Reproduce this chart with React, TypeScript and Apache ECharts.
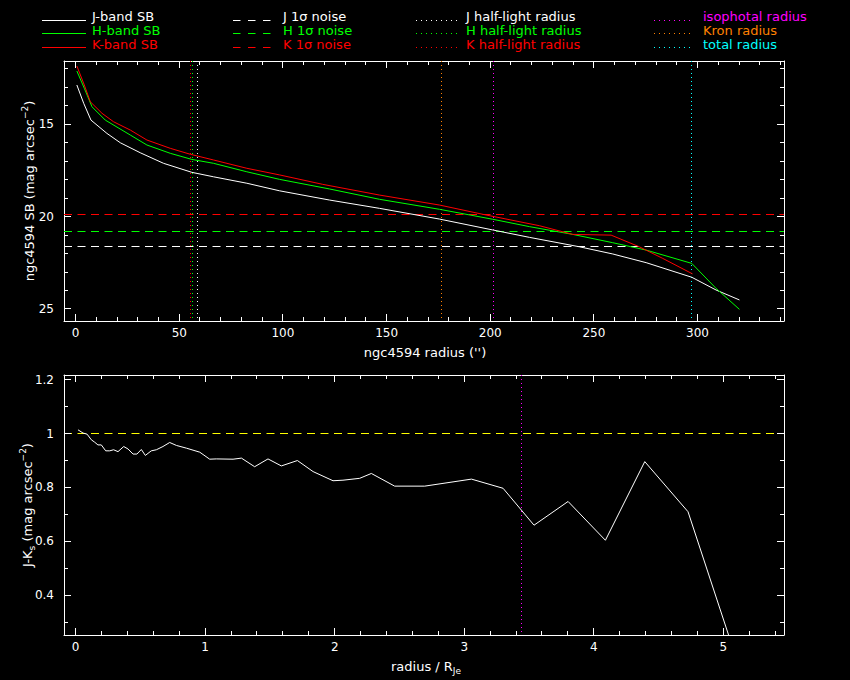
import React, { useEffect, useRef } from "react";
import * as echarts from "echarts";

// ---------- data ----------
const J_RADIUS = [0.6, 3.9, 7.4, 15.1, 21.6, 31.2, 42.4, 56.1, 66.5, 82.6, 98.4, 122.5, 146.6, 175.5, 201.2, 218.9, 243, 259.1, 275.2, 297.2, 308.9, 320.2];
const J_SB = [12.87, 13.86, 14.77, 15.49, 16.0, 16.54, 17.11, 17.6, 17.84, 18.19, 18.6, 19.1, 19.55, 20.13, 20.72, 21.12, 21.63, 22.02, 22.49, 23.28, 23.97, 24.51];

const H_RADIUS = [0.6, 4.2, 7.9, 14.3, 26.4, 34.4, 45.7, 56.1, 66.5, 82.6, 98.4, 122.5, 146.6, 175.5, 201.2, 218.9, 239.8, 259.1, 275.2, 297.2, 308.9, 320.2];
const H_SB = [12.11, 13.05, 14.05, 14.77, 15.58, 16.12, 16.57, 16.9, 17.11, 17.57, 17.98, 18.5, 19.06, 19.6, 20.14, 20.54, 20.96, 21.41, 21.81, 22.53, 23.88, 25.02];

const K_RADIUS = [0.6, 4.2, 7.1, 12.7, 18.3, 26.4, 34.4, 45.7, 55.3, 66.5, 82.6, 98.4, 119.2, 146.6, 175.5, 198, 223.7, 239.8, 258.3, 271.9, 283.2, 297.6];
const K_SB = [11.84, 12.87, 13.78, 14.4, 14.86, 15.31, 15.85, 16.3, 16.62, 16.93, 17.38, 17.74, 18.25, 18.83, 19.37, 19.91, 20.49, 20.96, 21.0, 21.63, 22.26, 23.1];

const NOISE_LEVELS = [21.6, 20.8, 19.9]; // J, H, K
const HALF_LIGHT_RADII = [58.7, 56.6, 55.3]; // J, H, K
const OTHER_RADII = [201.7, 176.6, 297.2]; // isophotal, Kron, total

const JK_RADIUS = [0.018, 0.057, 0.088, 0.121, 0.147, 0.172, 0.198, 0.232, 0.263, 0.293, 0.327, 0.371, 0.404, 0.443, 0.473, 0.507, 0.538, 0.584, 0.623, 0.674, 0.726, 0.778, 0.855, 0.958, 1.035, 1.086, 1.215, 1.28, 1.382, 1.485, 1.588, 1.712, 1.833, 1.987, 2.064, 2.193, 2.283, 2.463, 2.695, 3.056, 3.3, 3.539, 3.802, 4.09, 4.394, 4.728, 5.07];
const JK_COLOR = [1.014, 1.002, 0.998, 0.977, 0.968, 0.958, 0.958, 0.936, 0.936, 0.94, 0.933, 0.952, 0.943, 0.924, 0.924, 0.941, 0.919, 0.936, 0.94, 0.952, 0.967, 0.956, 0.946, 0.931, 0.905, 0.906, 0.905, 0.909, 0.877, 0.906, 0.88, 0.9, 0.859, 0.825, 0.827, 0.834, 0.852, 0.805, 0.805, 0.831, 0.797, 0.66, 0.748, 0.604, 0.896, 0.71, 0.21];
const JK_REFERENCE = 1;
const JK_ISOPHOTAL = 3.44;

// ---------- axis ranges & ticks ----------
const TOP_X_RANGE = [-5.6, 341.7];
const TOP_Y_RANGE = [11.57, 25.65];
const BOT_X_RANGE = [-0.09, 5.469];
const BOT_Y_RANGE = [0.2524, 1.2175];
const TOP_X_LABELS = [0, 50, 100, 150, 200, 250, 300];
const TOP_X_MINOR = [10, 20, 30, 40, 60, 70, 80, 90, 110, 120, 130, 140, 160, 170, 180, 190, 210, 220, 230, 240, 260, 270, 280, 290, 310, 320, 330, 340];
const TOP_Y_LABELS = [15, 20, 25];
const TOP_Y_MINOR = [12, 13, 14, 16, 17, 18, 19, 21, 22, 23, 24];
const BOT_X_LABELS = [0, 1, 2, 3, 4, 5];
const BOT_X_MINOR = [0.2, 0.4, 0.6, 0.8, 1.2, 1.4, 1.6, 1.8, 2.2, 2.4, 2.6, 2.8, 3.2, 3.4, 3.6, 3.8, 4.2, 4.4, 4.6, 4.8, 5.2, 5.4];
const BOT_Y_LABELS = [0.4, 0.6, 0.8, 1, 1.2];
const BOT_Y_MINOR = [0.3, 0.5, 0.7, 0.9, 1.1];

// ---------- legend / titles ----------
const SB_NAMES = ["J-band SB", "H-band SB", "K-band SB"];
const NOISE_NAMES = ["J 1σ noise", "H 1σ noise", "K 1σ noise"];
const HALF_NAMES = ["J half-light radius", "H half-light radius", "K half-light radius"];
const RADIUS_NAMES = ["isophotal radius", "Kron radius", "total radius"];
const TOP_X_TITLE = "ngc4594 radius ('')";
const TOP_Y_TITLE = "ngc4594 SB (mag arcsec{sup|−2})";
const BOT_X_TITLE = "radius / R{sub|Je}";
const BOT_Y_TITLE = "J-K{sub|s} (mag arcsec{sup|−2})";

const WHITE = "#ffffff";
const GREEN = "#00ff00";
const RED = "#ff0000";
const MAGENTA = "#ff00ff";
const ORANGE = "#ff8000";
const CYAN = "#00ffff";
const YELLOW = "#ffff00";
const BAND_COLORS = [WHITE, GREEN, RED];
const RADIUS_COLORS = [MAGENTA, ORANGE, CYAN];

const FONT = "DejaVu Sans";
const DASH = [8, 5.5];
const DOT = [1, 3];
const MAJOR_LEN = 7;
const MINOR_LEN = 4;

const zip = (xs: number[], ys: number[]) => xs.map((x, i) => [x, ys[i]]);
const crisp = (v: number) => Math.floor(v) + 0.5;

function axisPair(dim: "x" | "y", gridIndex: number, range: number[], labels: number[], inverse: boolean, margin: number) {
  const pos = dim === "x" ? ["bottom", "top"] : ["left", "right"];
  const base: any = {
    type: "value",
    gridIndex,
    min: range[0],
    max: range[1],
    inverse,
    splitLine: { show: false },
    axisTick: { show: false },
    axisLine: { show: true, onZero: false, lineStyle: { color: WHITE, width: 1 } },
  };
  return [
    {
      ...base,
      position: pos[0],
      axisLabel: { show: true, customValues: labels, color: WHITE, fontFamily: FONT, fontSize: 12, margin },
    },
    { ...base, position: pos[1], axisLabel: { show: false } },
  ];
}

function refLineSeries(name: string, dim: "x" | "y", axisIndex: number, value: number, color: string, dash: number[]) {
  return {
    type: "custom",
    name,
    coordinateSystem: "cartesian2d",
    xAxisIndex: axisIndex,
    yAxisIndex: axisIndex,
    silent: true,
    clip: false,
    z: 3,
    data: [[value, value]],
    renderItem: (params: any, api: any) => {
      const cs = params.coordSys;
      const p = api.coord([api.value(0), api.value(1)]);
      const style = { stroke: color, lineWidth: 1, lineDash: dash, fill: null };
      if (dim === "x") {
        const x = crisp(p[0]);
        return { type: "line", shape: { x1: x, y1: cs.y, x2: x, y2: cs.y + cs.height }, style };
      }
      const y = crisp(p[1]);
      return { type: "line", shape: { x1: cs.x, y1: y, x2: cs.x + cs.width, y2: y }, style };
    },
  };
}

const rich = {
  sup: { fontSize: 9, fontFamily: FONT, fill: WHITE, color: WHITE, verticalAlign: "top", lineHeight: 10 },
  sub: { fontSize: 9, fontFamily: FONT, fill: WHITE, color: WHITE, verticalAlign: "bottom", lineHeight: 10 },
};

function buildGraphics() {
  const cols = [
    { x1: 42, x2: 86, tx: 92, dash: null as any, names: SB_NAMES, colors: BAND_COLORS },
    { x1: 233, x2: 277, tx: 283, dash: [7.5, 7.5], names: NOISE_NAMES, colors: BAND_COLORS },
    { x1: 416, x2: 457, tx: 466, dash: [1, 4], names: HALF_NAMES, colors: BAND_COLORS },
    { x1: 654, x2: 694, tx: 703, dash: [1, 4], names: RADIUS_NAMES, colors: RADIUS_COLORS },
  ];
  const rows = [16.7, 30.5, 44.2];
  const els: any[] = [];
  cols.forEach((c) => {
    c.names.forEach((n, i) => {
      const ly = crisp(rows[i] + 3.3);
      els.push({
        type: "line",
        silent: true,
        shape: { x1: c.x1, y1: ly, x2: c.x2, y2: ly },
        style: { stroke: c.colors[i], lineWidth: 1, lineDash: c.dash },
      });
      els.push({
        type: "text",
        silent: true,
        x: c.tx,
        y: rows[i],
        style: { text: n, fill: c.colors[i], fontSize: 13, fontFamily: FONT, verticalAlign: "middle", align: "left" },
      });
    });
  });
  const title = (text: string, x: number, y: number, rot: number) => ({
    type: "text",
    silent: true,
    x,
    y,
    rotation: rot,
    style: {
      text,
      fill: WHITE,
      fontSize: 13,
      fontFamily: FONT,
      align: "center",
      verticalAlign: "middle",
      lineHeight: 18,
      rich,
    },
  });
  els.push(title(TOP_X_TITLE, 425, 352, 0));
  els.push(title(TOP_Y_TITLE, 29, 191, Math.PI / 2));
  els.push(title(BOT_X_TITLE, 426, 666, 0));
  els.push(title(BOT_Y_TITLE, 27, 505, Math.PI / 2));
  return els;
}

// inward tick marks on all four sides, positioned through the axes' own scales
function buildTicks(chart: any, xIdx: number, yIdx: number, xr: number[], yr: number[], xMaj: number[], xMin: number[], yMaj: number[], yMin: number[]) {
  const px = (v: number) => chart.convertToPixel({ xAxisIndex: xIdx }, v);
  const py = (v: number) => chart.convertToPixel({ yAxisIndex: yIdx }, v);
  const left = Math.min(px(xr[0]), px(xr[1]));
  const right = Math.max(px(xr[0]), px(xr[1]));
  const top = Math.min(py(yr[0]), py(yr[1]));
  const bottom = Math.max(py(yr[0]), py(yr[1]));
  const els: any[] = [];
  const seg = (x1: number, y1: number, x2: number, y2: number) =>
    els.push({ type: "line", silent: true, z: 50, shape: { x1, y1, x2, y2 }, style: { stroke: WHITE, lineWidth: 1 } });
  const xt = (vals: number[], len: number) =>
    vals.forEach((v) => {
      const x = crisp(px(v));
      seg(x, bottom, x, bottom - len);
      seg(x, top, x, top + len);
    });
  const yt = (vals: number[], len: number) =>
    vals.forEach((v) => {
      const y = crisp(py(v));
      seg(left, y, left + len, y);
      seg(right, y, right - len, y);
    });
  xt(xMaj, MAJOR_LEN);
  xt(xMin, MINOR_LEN);
  yt(yMaj, MAJOR_LEN);
  yt(yMin, MINOR_LEN);
  return els;
}

export default function App() {
  const ref = useRef<HTMLDivElement>(null);
  useEffect(() => {
    if (!ref.current) return;
    const chart = echarts.init(ref.current, undefined, { renderer: "svg" });
    const lineBase = {
      type: "line",
      symbol: "none",
      silent: true,
      clip: true,
      z: 4,
      emphasis: { disabled: true },
    };
    const topX = axisPair("x", 0, TOP_X_RANGE, TOP_X_LABELS, false, 6);
    const topY = axisPair("y", 0, TOP_Y_RANGE, TOP_Y_LABELS, true, 10);
    const botX = axisPair("x", 1, BOT_X_RANGE, BOT_X_LABELS, false, 6);
    const botY = axisPair("y", 1, BOT_Y_RANGE, BOT_Y_LABELS, false, 10);

    const baseGraphics = buildGraphics();
    chart.setOption({
      animation: false,
      backgroundColor: "#000000",
      textStyle: { fontFamily: FONT },
      grid: [
        { left: 64, top: 61, width: 720, height: 260, outerBoundsMode: "none", containLabel: false },
        { left: 64, top: 375, width: 720, height: 260, outerBoundsMode: "none", containLabel: false },
      ],
      xAxis: [...topX, ...botX],
      yAxis: [...topY, ...botY],
      graphic: baseGraphics,
      series: [
        ...NOISE_NAMES.map((n, i) => refLineSeries(n, "y", 0, NOISE_LEVELS[i], BAND_COLORS[i], DASH)),
        ...HALF_NAMES.map((n, i) => refLineSeries(n, "x", 0, HALF_LIGHT_RADII[i], BAND_COLORS[i], DOT)),
        ...RADIUS_NAMES.map((n, i) => refLineSeries(n, "x", 0, OTHER_RADII[i], RADIUS_COLORS[i], DOT)),
        refLineSeries("J-K = 1", "y", 2, JK_REFERENCE, YELLOW, DASH),
        refLineSeries("isophotal radius / R_Je", "x", 2, JK_ISOPHOTAL, MAGENTA, DOT),
        {
          ...lineBase,
          name: SB_NAMES[0],
          xAxisIndex: 0,
          yAxisIndex: 0,
          data: zip(J_RADIUS, J_SB),
          lineStyle: { color: WHITE, width: 1 },
          itemStyle: { color: WHITE },
        },
        {
          ...lineBase,
          name: SB_NAMES[1],
          xAxisIndex: 0,
          yAxisIndex: 0,
          data: zip(H_RADIUS, H_SB),
          lineStyle: { color: GREEN, width: 1 },
          itemStyle: { color: GREEN },
        },
        {
          ...lineBase,
          name: SB_NAMES[2],
          xAxisIndex: 0,
          yAxisIndex: 0,
          data: zip(K_RADIUS, K_SB),
          lineStyle: { color: RED, width: 1 },
          itemStyle: { color: RED },
        },
        {
          ...lineBase,
          name: "J-K",
          xAxisIndex: 2,
          yAxisIndex: 2,
          data: zip(JK_RADIUS, JK_COLOR),
          lineStyle: { color: WHITE, width: 1 },
          itemStyle: { color: WHITE },
        },
      ],
    });

    const ticks = [
      ...buildTicks(chart, 0, 0, TOP_X_RANGE, TOP_Y_RANGE, TOP_X_LABELS, TOP_X_MINOR, TOP_Y_LABELS, TOP_Y_MINOR),
      ...buildTicks(chart, 2, 2, BOT_X_RANGE, BOT_Y_RANGE, BOT_X_LABELS, BOT_X_MINOR, BOT_Y_LABELS, BOT_Y_MINOR),
    ];
    chart.setOption({ graphic: [...baseGraphics, ...ticks] });

    return () => chart.dispose();
  }, []);
  return (
    <div
      ref={ref}
      style={{ position: "fixed", left: 0, top: 0, width: 850, height: 680, background: "#000" }}
    />
  );
}
